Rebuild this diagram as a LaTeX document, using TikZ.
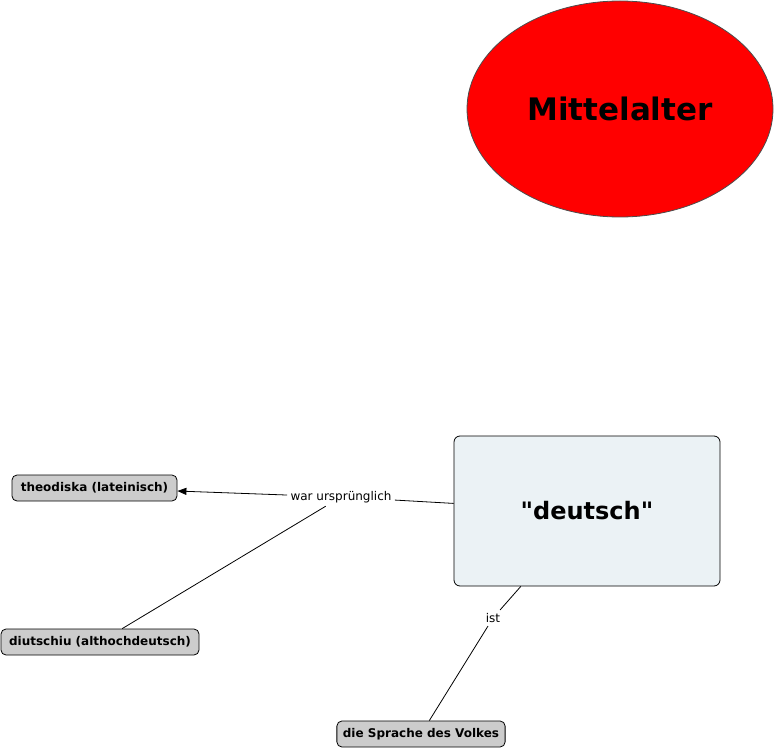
\documentclass[tikz,border=0pt]{standalone}
\usepackage{fontspec}
\setmainfont{DejaVu Sans}
\newfontfamily\straightfont[Ligatures=TeXOff]{DejaVu Sans}
\usetikzlibrary{arrows.meta,shapes.geometric}

\definecolor{conceptgray}{RGB}{204,204,204}
\definecolor{conceptblue}{RGB}{235,242,245}

\begin{document}
\begin{tikzpicture}[
  x=1pt, y=-1pt,
  cp/.style={draw, rounded corners=5pt, fill=conceptgray, font=\fontsize{12}{14}\selectfont\bfseries,
    minimum height=26pt, inner xsep=6pt, line width=0.8pt},
  lbl/.style={font=\fontsize{12}{14}\selectfont, inner sep=3pt},
  >={Triangle[length=9pt,width=7pt]}, line width=0.8pt
]
  \useasboundingbox (0,0) rectangle (776,751);

  \node[draw=black!70, ellipse, fill=red, minimum width=306pt, minimum height=216pt,
        font=\fontsize{31}{35}\selectfont\bfseries] (mittel) at (620,109) {Mittelalter};

  \node[draw, rounded corners=6pt, fill=conceptblue, minimum width=266pt, minimum height=150pt,
        font=\straightfont\fontsize{24}{28}\selectfont\bfseries] (deutsch) at (587,511) {"deutsch"};

  \node[cp, minimum width=165pt] (theo) at (94.5,488) {theodiska (lateinisch)};
  \node[cp, minimum width=198pt] (diut) at (100,642) {diutschiu (althochdeutsch)};
  \node[cp, minimum width=168pt] (volk) at (421,734) {die Sprache des Volkes};

  \node[lbl] (war) at (341,497) {war ursprünglich};
  \node[lbl] (ist) at (493,618) {ist};

  \draw (deutsch) -- (war);
  \draw[->] (war) -- (theo);
  \draw (war) -- (diut);
  \draw (deutsch) -- (ist);
  \draw (ist) -- (volk);
\end{tikzpicture}
\end{document}
